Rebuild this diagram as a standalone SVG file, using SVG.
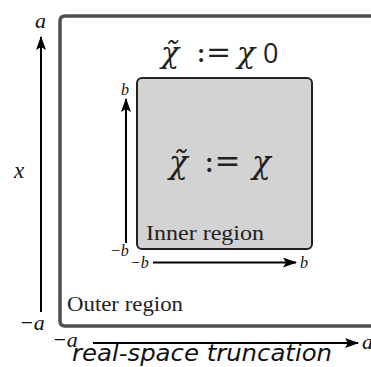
<svg xmlns="http://www.w3.org/2000/svg" width="371" height="367" viewBox="0 0 371 367">
<style>
.m{font-family:"Liberation Serif","DejaVu Serif",serif;font-style:italic;fill:#111}
.r{font-family:"Liberation Serif","Times New Roman",serif;fill:#222}
.ax{stroke:#000;stroke-width:2;fill:none}
.big{font-family:"DejaVu Serif","Liberation Serif",serif;fill:#222}
.z{font-family:"Open Sans","DejaVu Sans",sans-serif;fill:#222}
</style>
<defs>
<marker id="ah" viewBox="0 0 14 10" refX="13" refY="5" markerWidth="14" markerHeight="10" markerUnits="userSpaceOnUse" orient="auto">
<path d="M0,0 L14,5 L0,10 L3,5 Z" fill="#000"/>
</marker>
</defs>
<rect width="371" height="367" fill="#fff"/>
<g id="outer">
<path d="M380,16 H65 Q60,16 60,21 V321 Q60,326 65,326 H380" fill="none" stroke="#505050" stroke-width="3.5"/>
<text class="r" x="67" y="311" font-size="22" textLength="116" lengthAdjust="spacingAndGlyphs">Outer region</text>
<g class="big" font-size="30">
<text x="161" y="63" font-style="italic">χ̃</text>
<text x="196" y="62">:=</text>
<text x="237" y="63" font-style="italic">χ</text>
<text class="z" x="263" y="63" font-size="27">0</text>
</g>
</g>
<g id="inner">
<rect x="137" y="78" width="175" height="171" rx="5" fill="#d3d3d3" stroke="#222" stroke-width="2"/>
<text class="r" x="146" y="240" font-size="22" textLength="118" lengthAdjust="spacingAndGlyphs">Inner region</text>
<g class="big" font-size="31">
<text x="169" y="173" font-style="italic">χ̃</text>
<text x="204" y="172">:=</text>
<text x="252" y="173" font-style="italic">χ</text>
</g>
</g>
<g id="connectors">
<line class="ax" x1="41" y1="312" x2="41" y2="37" marker-end="url(#ah)"/>
<line class="ax" x1="126" y1="243" x2="126" y2="99" marker-end="url(#ah)"/>
<line class="ax" x1="153" y1="262.5" x2="296" y2="262.5" marker-end="url(#ah)"/>
<line class="ax" x1="93" y1="343" x2="358" y2="343" marker-end="url(#ah)"/>
</g>
<g id="labels">
<text class="m" x="35" y="28" font-size="22">a</text>
<text class="m" x="14" y="178" font-size="23">x</text>
<text class="m" x="19" y="330" font-size="22">−a</text>
<text class="m" x="121" y="95" font-size="16">b</text>
<text class="m" x="110" y="256" font-size="16">−b</text>
<text class="m" x="130" y="268" font-size="16">−b</text>
<text class="m" x="300" y="268" font-size="16">b</text>
<text class="m" x="52" y="347" font-size="22">−a</text>
<text class="m" x="362" y="349" font-size="22">a</text>
<text x="72" y="361" font-family="DejaVu Sans, sans-serif" font-style="italic" font-size="23" fill="#111" textLength="260" lengthAdjust="spacingAndGlyphs">real-space truncation</text>
</g>
</svg>
